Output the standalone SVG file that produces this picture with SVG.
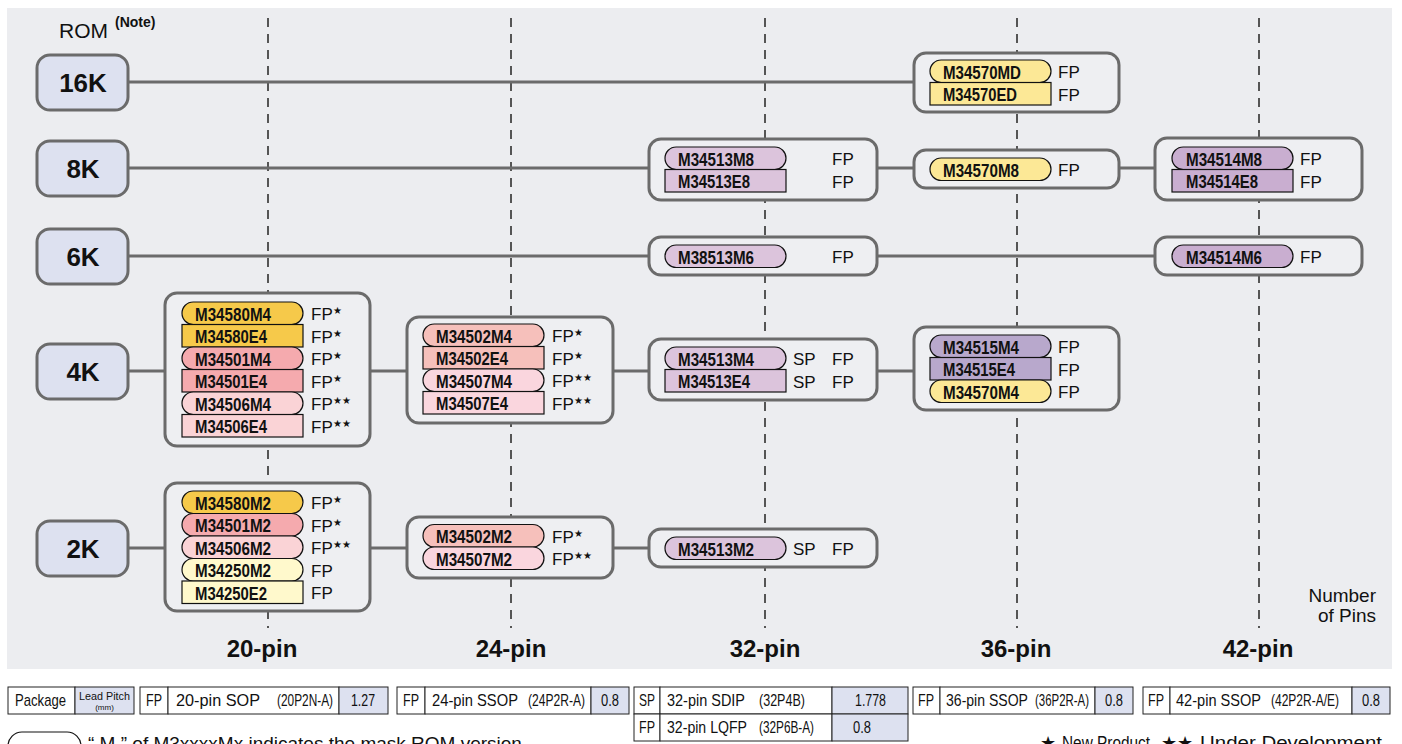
<svg xmlns="http://www.w3.org/2000/svg" width="1402" height="744" viewBox="0 0 1402 744">
<defs>
<style>
.bg{fill:#ecedf0}
.rom{fill:#dde1f0;stroke:#6b6b6b;stroke-width:3}
.grp{fill:#eeeff2;stroke:#6b6b6b;stroke-width:3}
.con{stroke:#6b6b6b;stroke-width:3;fill:none}
.dash{stroke:#555;stroke-width:2;stroke-dasharray:9 7;fill:none}
.chip{stroke:#111;stroke-width:1.2}
.cl{font-family:"Liberation Sans",Arial,sans-serif;font-weight:bold;font-size:19px;fill:#111}
.fp{font-family:"Liberation Sans",Arial,sans-serif;font-size:17px;fill:#111}
.st{font-size:10px}
.romt{font-family:"Liberation Sans",Arial,sans-serif;font-weight:bold;font-size:26px;fill:#111;text-anchor:middle}
.pin{font-family:"Liberation Sans",Arial,sans-serif;font-weight:bold;font-size:24px;fill:#111;text-anchor:middle}
.lab{font-family:"Liberation Sans",Arial,sans-serif;font-size:19px;fill:#111}
.leg{font-family:"Liberation Sans",Arial,sans-serif;font-size:18px;fill:#111}
.tb{fill:#fff;stroke:#222;stroke-width:1}
.tbb{fill:#dde1f0;stroke:#222;stroke-width:1}
.tt{font-family:"Liberation Sans",Arial,sans-serif;font-size:17px;fill:#111}
.o{fill:#f6c94a}.pk{fill:#f5aaae}.lp{fill:#fad3d6}.py{fill:#fff9cc}.y{fill:#fce896}
.pu{fill:#dcc4dc}.pu2{fill:#c9aed0}.lv{fill:#b8a8cc}.sa{fill:#f6c0bb}.lp2{fill:#fad6de}
</style>
</defs>
<rect class="bg" x="7" y="8" width="1385" height="661"/>

<g id="guides">
<line class="dash" x1="268" y1="18" x2="268" y2="628"/>
<line class="dash" x1="511" y1="18" x2="511" y2="628"/>
<line class="dash" x1="765" y1="18" x2="765" y2="628"/>
<line class="dash" x1="1017" y1="18" x2="1017" y2="628"/>
<line class="dash" x1="1259" y1="18" x2="1259" y2="628"/>
</g>

<g id="connectors">
<line class="con" x1="128" y1="82" x2="914" y2="82"/>
<line class="con" x1="128" y1="168" x2="649" y2="168"/>
<line class="con" x1="877" y1="168" x2="914" y2="168"/>
<line class="con" x1="1119" y1="168" x2="1155" y2="168"/>
<line class="con" x1="128" y1="256" x2="649" y2="256"/>
<line class="con" x1="877" y1="256" x2="1155" y2="256"/>
<line class="con" x1="128" y1="371" x2="165" y2="371"/>
<line class="con" x1="370" y1="371" x2="407" y2="371"/>
<line class="con" x1="613" y1="371" x2="649" y2="371"/>
<line class="con" x1="877" y1="371" x2="914" y2="371"/>
<line class="con" x1="128" y1="548" x2="165" y2="548"/>
<line class="con" x1="370" y1="548" x2="407" y2="548"/>
<line class="con" x1="613" y1="548" x2="649" y2="548"/>
</g>

<text x="59" y="38" font-family="Liberation Sans,Arial,sans-serif" font-size="21" fill="#111">ROM</text>
<text x="115" y="27" font-family="Liberation Sans,Arial,sans-serif" font-weight="bold" font-size="14" fill="#111">(Note)</text>

<g id="rom16"><rect class="rom" x="37" y="55" width="91" height="55" rx="13"/><text class="romt" x="83" y="92">16K</text></g>
<g id="rom8"><rect class="rom" x="37" y="141" width="91" height="55" rx="13"/><text class="romt" x="83" y="178">8K</text></g>
<g id="rom6"><rect class="rom" x="37" y="229" width="91" height="55" rx="13"/><text class="romt" x="83" y="266">6K</text></g>
<g id="rom4"><rect class="rom" x="37" y="344" width="91" height="55" rx="13"/><text class="romt" x="83" y="381">4K</text></g>
<g id="rom2"><rect class="rom" x="37" y="521" width="91" height="55" rx="13"/><text class="romt" x="83" y="558">2K</text></g>

<g id="g16-36">
<rect class="grp" x="914" y="53" width="205" height="59" rx="12"/>
<rect class="chip y" x="930" y="60" width="121" height="22.5" rx="11.2"/>
<text class="cl" x="943" y="78.5" textLength="78" lengthAdjust="spacingAndGlyphs">M34570MD</text>
<text class="fp" x="1058" y="78">FP</text>
<rect class="chip y" x="930" y="82.5" width="121" height="22.5"/>
<text class="cl" x="943" y="101" textLength="74" lengthAdjust="spacingAndGlyphs">M34570ED</text>
<text class="fp" x="1058" y="100.5">FP</text>
</g>

<g id="g8-32">
<rect class="grp" x="649" y="139" width="228" height="61" rx="12"/>
<rect class="chip pu" x="665" y="147" width="121" height="22.5" rx="11.2"/>
<text class="cl" x="678" y="165.5" textLength="76" lengthAdjust="spacingAndGlyphs">M34513M8</text>
<text class="fp" x="832" y="165">FP</text>
<rect class="chip pu" x="665" y="169.5" width="121" height="22.5"/>
<text class="cl" x="678" y="188" textLength="72" lengthAdjust="spacingAndGlyphs">M34513E8</text>
<text class="fp" x="832" y="187.5">FP</text>
</g>

<g id="g8-36">
<rect class="grp" x="914" y="150" width="205" height="38" rx="12"/>
<rect class="chip y" x="930" y="158" width="121" height="22.5" rx="11.2"/>
<text class="cl" x="943" y="176.5" textLength="76" lengthAdjust="spacingAndGlyphs">M34570M8</text>
<text class="fp" x="1058" y="176">FP</text>
</g>

<g id="g8-42">
<rect class="grp" x="1155" y="138" width="207" height="62" rx="12"/>
<rect class="chip pu2" x="1172" y="147" width="121" height="22.5" rx="11.2"/>
<text class="cl" x="1186" y="165.5" textLength="76" lengthAdjust="spacingAndGlyphs">M34514M8</text>
<text class="fp" x="1300" y="165">FP</text>
<rect class="chip pu2" x="1172" y="169.5" width="121" height="22.5"/>
<text class="cl" x="1186" y="188" textLength="72" lengthAdjust="spacingAndGlyphs">M34514E8</text>
<text class="fp" x="1300" y="187.5">FP</text>
</g>

<g id="g6-32">
<rect class="grp" x="649" y="237" width="228" height="38" rx="12"/>
<rect class="chip pu" x="665" y="245" width="121" height="22.5" rx="11.2"/>
<text class="cl" x="678" y="263.5" textLength="76" lengthAdjust="spacingAndGlyphs">M38513M6</text>
<text class="fp" x="832" y="263">FP</text>
</g>

<g id="g6-42">
<rect class="grp" x="1155" y="237" width="207" height="38" rx="12"/>
<rect class="chip pu2" x="1172" y="245" width="121" height="22.5" rx="11.2"/>
<text class="cl" x="1186" y="263.5" textLength="76" lengthAdjust="spacingAndGlyphs">M34514M6</text>
<text class="fp" x="1300" y="263">FP</text>
</g>

<g id="g4-20">
<rect class="grp" x="165" y="293" width="205" height="153" rx="12"/>
<rect class="chip o" x="182" y="302" width="121" height="22.5" rx="11.2"/>
<text class="cl" x="195" y="320.5" textLength="76" lengthAdjust="spacingAndGlyphs">M34580M4</text>
<text class="fp" x="311" y="320">FP<tspan class="st" dy="-6">★</tspan></text>
<rect class="chip o" x="182" y="324.5" width="121" height="22.5"/>
<text class="cl" x="195" y="343" textLength="72" lengthAdjust="spacingAndGlyphs">M34580E4</text>
<text class="fp" x="311" y="342.5">FP<tspan class="st" dy="-6">★</tspan></text>
<rect class="chip pk" x="182" y="347" width="121" height="22.5" rx="11.2"/>
<text class="cl" x="195" y="365.5" textLength="76" lengthAdjust="spacingAndGlyphs">M34501M4</text>
<text class="fp" x="311" y="365">FP<tspan class="st" dy="-6">★</tspan></text>
<rect class="chip pk" x="182" y="369.5" width="121" height="22.5"/>
<text class="cl" x="195" y="388" textLength="72" lengthAdjust="spacingAndGlyphs">M34501E4</text>
<text class="fp" x="311" y="387.5">FP<tspan class="st" dy="-6">★</tspan></text>
<rect class="chip lp" x="182" y="392" width="121" height="22.5" rx="11.2"/>
<text class="cl" x="195" y="410.5" textLength="76" lengthAdjust="spacingAndGlyphs">M34506M4</text>
<text class="fp" x="311" y="410">FP<tspan class="st" dy="-6">★★</tspan></text>
<rect class="chip lp" x="182" y="414.5" width="121" height="22.5"/>
<text class="cl" x="195" y="433" textLength="72" lengthAdjust="spacingAndGlyphs">M34506E4</text>
<text class="fp" x="311" y="432.5">FP<tspan class="st" dy="-6">★★</tspan></text>
</g>

<g id="g4-24">
<rect class="grp" x="407" y="317" width="206" height="106" rx="12"/>
<rect class="chip sa" x="423" y="324" width="121" height="22.5" rx="11.2"/>
<text class="cl" x="436" y="342.5" textLength="76" lengthAdjust="spacingAndGlyphs">M34502M4</text>
<text class="fp" x="552" y="342">FP<tspan class="st" dy="-6">★</tspan></text>
<rect class="chip sa" x="423" y="346.5" width="121" height="22.5"/>
<text class="cl" x="436" y="365" textLength="72" lengthAdjust="spacingAndGlyphs">M34502E4</text>
<text class="fp" x="552" y="364.5">FP<tspan class="st" dy="-6">★</tspan></text>
<rect class="chip lp2" x="423" y="369" width="121" height="22.5" rx="11.2"/>
<text class="cl" x="436" y="387.5" textLength="76" lengthAdjust="spacingAndGlyphs">M34507M4</text>
<text class="fp" x="552" y="387">FP<tspan class="st" dy="-6">★★</tspan></text>
<rect class="chip lp2" x="423" y="391.5" width="121" height="22.5"/>
<text class="cl" x="436" y="410" textLength="72" lengthAdjust="spacingAndGlyphs">M34507E4</text>
<text class="fp" x="552" y="409.5">FP<tspan class="st" dy="-6">★★</tspan></text>
</g>

<g id="g4-32">
<rect class="grp" x="649" y="339" width="228" height="61" rx="12"/>
<rect class="chip pu" x="665" y="347" width="121" height="22.5" rx="11.2"/>
<text class="cl" x="678" y="365.5" textLength="76" lengthAdjust="spacingAndGlyphs">M34513M4</text>
<text class="fp" x="793" y="365">SP</text><text class="fp" x="832" y="365">FP</text>
<rect class="chip pu" x="665" y="369.5" width="121" height="22.5"/>
<text class="cl" x="678" y="388" textLength="72" lengthAdjust="spacingAndGlyphs">M34513E4</text>
<text class="fp" x="793" y="387.5">SP</text><text class="fp" x="832" y="387.5">FP</text>
</g>

<g id="g4-36">
<rect class="grp" x="914" y="327" width="205" height="83" rx="12"/>
<rect class="chip lv" x="930" y="335" width="121" height="22.5" rx="11.2"/>
<text class="cl" x="943" y="353.5" textLength="76" lengthAdjust="spacingAndGlyphs">M34515M4</text>
<text class="fp" x="1058" y="353">FP</text>
<rect class="chip lv" x="930" y="357.5" width="121" height="22.5"/>
<text class="cl" x="943" y="376" textLength="72" lengthAdjust="spacingAndGlyphs">M34515E4</text>
<text class="fp" x="1058" y="375.5">FP</text>
<rect class="chip y" x="930" y="380" width="121" height="22.5" rx="11.2"/>
<text class="cl" x="943" y="398.5" textLength="76" lengthAdjust="spacingAndGlyphs">M34570M4</text>
<text class="fp" x="1058" y="398">FP</text>
</g>

<g id="g2-20">
<rect class="grp" x="165" y="483" width="205" height="128" rx="12"/>
<rect class="chip o" x="182" y="491" width="121" height="22.5" rx="11.2"/>
<text class="cl" x="195" y="509.5" textLength="76" lengthAdjust="spacingAndGlyphs">M34580M2</text>
<text class="fp" x="311" y="509">FP<tspan class="st" dy="-6">★</tspan></text>
<rect class="chip pk" x="182" y="513.5" width="121" height="22.5" rx="11.2"/>
<text class="cl" x="195" y="532" textLength="76" lengthAdjust="spacingAndGlyphs">M34501M2</text>
<text class="fp" x="311" y="531.5">FP<tspan class="st" dy="-6">★</tspan></text>
<rect class="chip lp" x="182" y="536" width="121" height="22.5" rx="11.2"/>
<text class="cl" x="195" y="554.5" textLength="76" lengthAdjust="spacingAndGlyphs">M34506M2</text>
<text class="fp" x="311" y="554">FP<tspan class="st" dy="-6">★★</tspan></text>
<rect class="chip py" x="182" y="558.5" width="121" height="22.5" rx="11.2"/>
<text class="cl" x="195" y="577" textLength="76" lengthAdjust="spacingAndGlyphs">M34250M2</text>
<text class="fp" x="311" y="576.5">FP</text>
<rect class="chip py" x="182" y="581" width="121" height="22.5"/>
<text class="cl" x="195" y="599.5" textLength="72" lengthAdjust="spacingAndGlyphs">M34250E2</text>
<text class="fp" x="311" y="599">FP</text>
</g>

<g id="g2-24">
<rect class="grp" x="407" y="517" width="206" height="61" rx="12"/>
<rect class="chip sa" x="423" y="524.5" width="121" height="22.5" rx="11.2"/>
<text class="cl" x="436" y="543" textLength="76" lengthAdjust="spacingAndGlyphs">M34502M2</text>
<text class="fp" x="552" y="542.5">FP<tspan class="st" dy="-6">★</tspan></text>
<rect class="chip lp2" x="423" y="547" width="121" height="22.5" rx="11.2"/>
<text class="cl" x="436" y="565.5" textLength="76" lengthAdjust="spacingAndGlyphs">M34507M2</text>
<text class="fp" x="552" y="565">FP<tspan class="st" dy="-6">★★</tspan></text>
</g>

<g id="g2-32">
<rect class="grp" x="649" y="529" width="228" height="38" rx="12"/>
<rect class="chip pu" x="665" y="537" width="121" height="22.5" rx="11.2"/>
<text class="cl" x="678" y="555.5" textLength="76" lengthAdjust="spacingAndGlyphs">M34513M2</text>
<text class="fp" x="793" y="555">SP</text><text class="fp" x="832" y="555">FP</text>
</g>

<g id="pins">
<text class="pin" x="262" y="657">20-pin</text>
<text class="pin" x="511" y="657">24-pin</text>
<text class="pin" x="765" y="657">32-pin</text>
<text class="pin" x="1016" y="657">36-pin</text>
<text class="pin" x="1258" y="657">42-pin</text>
<text class="lab" x="1376" y="602" text-anchor="end">Number</text>
<text class="lab" x="1376" y="622" text-anchor="end">of Pins</text>
</g>

<g id="legend">
<rect class="tb" x="8" y="687" width="67" height="27"/>
<rect class="tbb" x="75" y="687" width="59" height="27"/>
<text class="tt" x="15" y="706" textLength="51" lengthAdjust="spacingAndGlyphs">Package</text>
<text x="79" y="700" font-family="Liberation Sans,Arial,sans-serif" font-size="11" fill="#111" textLength="51" lengthAdjust="spacingAndGlyphs">Lead Pitch</text>
<text x="104.5" y="710" font-family="Liberation Sans,Arial,sans-serif" font-size="8" fill="#111" text-anchor="middle">(mm)</text>

<rect class="tb" x="140" y="687" width="28" height="27"/><rect class="tb" x="168" y="687" width="171" height="27"/><rect class="tbb" x="339" y="687" width="49" height="27"/>
<text class="tt" x="146" y="706" textLength="16" lengthAdjust="spacingAndGlyphs">FP</text>
<text class="tt" x="176" y="706" textLength="84" lengthAdjust="spacingAndGlyphs">20-pin SOP</text>
<text class="tt" x="277" y="706" textLength="56" lengthAdjust="spacingAndGlyphs">(20P2N-A)</text>
<text class="tt" x="351" y="706" textLength="24" lengthAdjust="spacingAndGlyphs">1.27</text>

<rect class="tb" x="397" y="687" width="28" height="27"/><rect class="tb" x="425" y="687" width="166" height="27"/><rect class="tbb" x="591" y="687" width="38" height="27"/>
<text class="tt" x="403" y="706" textLength="16" lengthAdjust="spacingAndGlyphs">FP</text>
<text class="tt" x="432" y="706" textLength="86" lengthAdjust="spacingAndGlyphs">24-pin SSOP</text>
<text class="tt" x="528" y="706" textLength="57" lengthAdjust="spacingAndGlyphs">(24P2R-A)</text>
<text class="tt" x="601" y="706" textLength="18" lengthAdjust="spacingAndGlyphs">0.8</text>

<rect class="tb" x="634" y="687" width="26" height="27"/><rect class="tb" x="660" y="687" width="172" height="27"/><rect class="tbb" x="832" y="687" width="76" height="27"/>
<rect class="tb" x="634" y="714" width="26" height="27"/><rect class="tb" x="660" y="714" width="172" height="27"/><rect class="tbb" x="832" y="714" width="76" height="27"/>
<text class="tt" x="639" y="706" textLength="16" lengthAdjust="spacingAndGlyphs">SP</text>
<text class="tt" x="667" y="706" textLength="78" lengthAdjust="spacingAndGlyphs">32-pin SDIP</text>
<text class="tt" x="759" y="706" textLength="46" lengthAdjust="spacingAndGlyphs">(32P4B)</text>
<text class="tt" x="855" y="706" textLength="31" lengthAdjust="spacingAndGlyphs">1.778</text>
<text class="tt" x="639" y="733" textLength="16" lengthAdjust="spacingAndGlyphs">FP</text>
<text class="tt" x="667" y="733" textLength="80" lengthAdjust="spacingAndGlyphs">32-pin LQFP</text>
<text class="tt" x="759" y="733" textLength="55" lengthAdjust="spacingAndGlyphs">(32P6B-A)</text>
<text class="tt" x="853" y="733" textLength="18" lengthAdjust="spacingAndGlyphs">0.8</text>

<rect class="tb" x="913" y="687" width="27" height="27"/><rect class="tb" x="940" y="687" width="155" height="27"/><rect class="tbb" x="1095" y="687" width="38" height="27"/>
<text class="tt" x="918" y="706" textLength="16" lengthAdjust="spacingAndGlyphs">FP</text>
<text class="tt" x="946" y="706" textLength="82" lengthAdjust="spacingAndGlyphs">36-pin SSOP</text>
<text class="tt" x="1035" y="706" textLength="54" lengthAdjust="spacingAndGlyphs">(36P2R-A)</text>
<text class="tt" x="1105" y="706" textLength="18" lengthAdjust="spacingAndGlyphs">0.8</text>

<rect class="tb" x="1143" y="687" width="27" height="27"/><rect class="tb" x="1170" y="687" width="182" height="27"/><rect class="tbb" x="1352" y="687" width="38" height="27"/>
<text class="tt" x="1148" y="706" textLength="16" lengthAdjust="spacingAndGlyphs">FP</text>
<text class="tt" x="1176" y="706" textLength="85" lengthAdjust="spacingAndGlyphs">42-pin SSOP</text>
<text class="tt" x="1271" y="706" textLength="68" lengthAdjust="spacingAndGlyphs">(42P2R-A/E)</text>
<text class="tt" x="1362" y="706" textLength="18" lengthAdjust="spacingAndGlyphs">0.8</text>

<rect x="8" y="732" width="73" height="28" rx="14" fill="#fff" stroke="#111" stroke-width="1.2"/>
<text class="lab" x="88" y="750">“ M ” of M3xxxxMx indicates the mask ROM version.</text>
<text class="leg" x="1040" y="749">★</text>
<text class="leg" x="1062" y="749" textLength="88" lengthAdjust="spacingAndGlyphs">New Product</text>
<text class="leg" x="1161" y="749">★★</text>
<text class="leg" x="1200" y="749" textLength="182" lengthAdjust="spacingAndGlyphs">Under Development</text>
</g>
</svg>
